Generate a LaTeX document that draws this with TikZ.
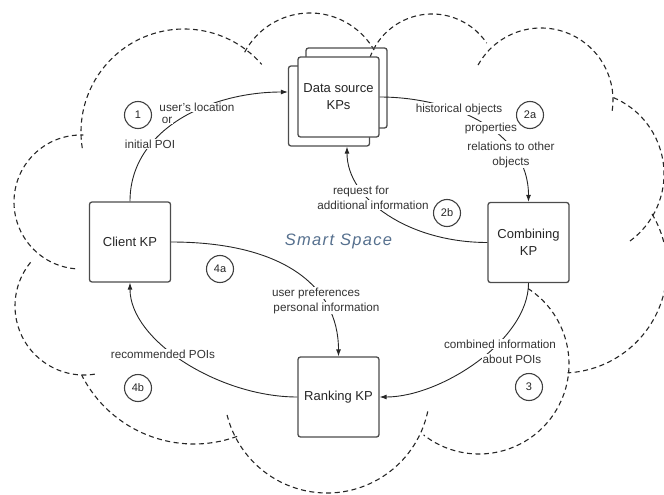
\documentclass[tikz,border=0pt]{standalone}
\usepackage{fontspec}
\setmainfont{Liberation Sans}
\newfontfamily\spacedfont[LetterSpace=8]{Liberation Sans}
\usetikzlibrary{arrows.meta}
\definecolor{smartblue}{HTML}{56708E}

\begin{document}
\begin{tikzpicture}[x=1pt, y=-1pt,
  cloud/.style={draw=black!85, line width=1.1pt, dash pattern=on 5pt off 3.5pt},
  kp/.style={draw=black!70, line width=1.3pt, rounded corners=2.5pt,
    minimum width=81pt, minimum height=80pt, inner sep=0pt, align=center,
    font=\fontsize{13}{17}\selectfont, text=black!85},
  flow/.style={draw=black!85, line width=0.9pt, -{Latex[length=7pt,width=5pt]}},
  lbl/.style={fill=white, inner sep=0.7pt, align=center,
    font=\fontsize{11.7}{15}\selectfont, text=black!80},
  num/.style={circle, draw=black!75, line width=1.1pt, minimum size=27pt,
    inner sep=0pt, font=\fontsize{11}{13}\selectfont, text=black!85}]

\useasboundingbox (0,0) rectangle (664,495);
\clip (0,0) rectangle (664,495);

% dashed cloud outline: centre x / centre y / radius / start angle / end angle
\foreach \cx/\cy/\r/\a/\b in {
  184/132/103/171/319,
  310/87/74/208/330,
  432/80/66/200/326,
  541/100/72/209/369,
  581/174/83/293/416,
  562/268/105/-31/87,
  479/364/90/-57/128,
  327/390/103/12/166,
  194/318/126/70/153,
  84/306/69/81/222,
  81/202/67/95/272}
  \draw[cloud] (\cx,\cy) ++(\a:\r) arc[start angle=\a, end angle=\b, radius=\r];

\node[font=\spacedfont\fontsize{16.5}{20}\selectfont\itshape, text=smartblue]
  (smart) at (338.5,241) {Smart Space};

% knowledge processors
\node[kp] (dsA) at (346.5,88) {};
\node[kp] (dsC) at (329,106) {};
\node[kp, fill=white] (ds) at (338.5,97) {Data source\\KPs};
\node[kp] (client) at (130,242) {Client KP};
\node[kp] (comb) at (528.5,242.5) {Combining\\KP};
\node[kp] (rank) at (338.5,397) {Ranking KP};

% information flows
\draw[flow] (client.north) .. controls +(0,-72) and +(-78,0) .. ([yshift=14pt]dsC.west);
\draw[flow] (ds.east) .. controls +(71,0) and +(0,-72) .. (comb.north);
\draw[flow] (comb.west) .. controls +(-78,0) and +(0,53) .. ([xshift=18pt]dsC.south);
\draw[flow] (comb.south) .. controls +(0,57) and +(61,0) .. (rank.east);
\draw[flow] (client.east) .. controls +(109,0) and +(0,-72) .. (rank.north);
\draw[flow] (rank.west) .. controls +(-78,0) and +(0,58) .. (client.south);

% flow labels
\node[lbl] (l1b) at (167,120.5) {or};
\node[lbl] (l1a) at (197,107.5) {user's location};
\node[lbl] (l1c) at (150,144) {initial POI};
\node[lbl] (l2a) at (459,109) {historical objects};
\node[lbl] (l2b) at (491,128) {properties};
\node[lbl] (l2c) at (511,154.5) {relations to other\\objects};
\node[lbl] (l2d) at (361,191) {request for};
\node[lbl] (l2e) at (373,205) {additional information};
\node[lbl] (l4a) at (316,293) {user preferences};
\node[lbl] (l4b) at (326.5,308) {personal information};
\node[lbl] (l3a) at (500,344) {combined information};
\node[lbl] (l3b) at (512,359) {about POIs};
\node[lbl] (l4c) at (163,354) {recommended POIs};

% step numbers
\node[num] (n1) at (138,115) {1};
\node[num] (n2a) at (530,115) {2a};
\node[num] (n2b) at (447,213) {2b};
\node[num] (n3) at (529,387) {3};
\node[num] (n4a) at (220,269) {4a};
\node[num] (n4b) at (138,388) {4b};
\end{tikzpicture}
\end{document}
